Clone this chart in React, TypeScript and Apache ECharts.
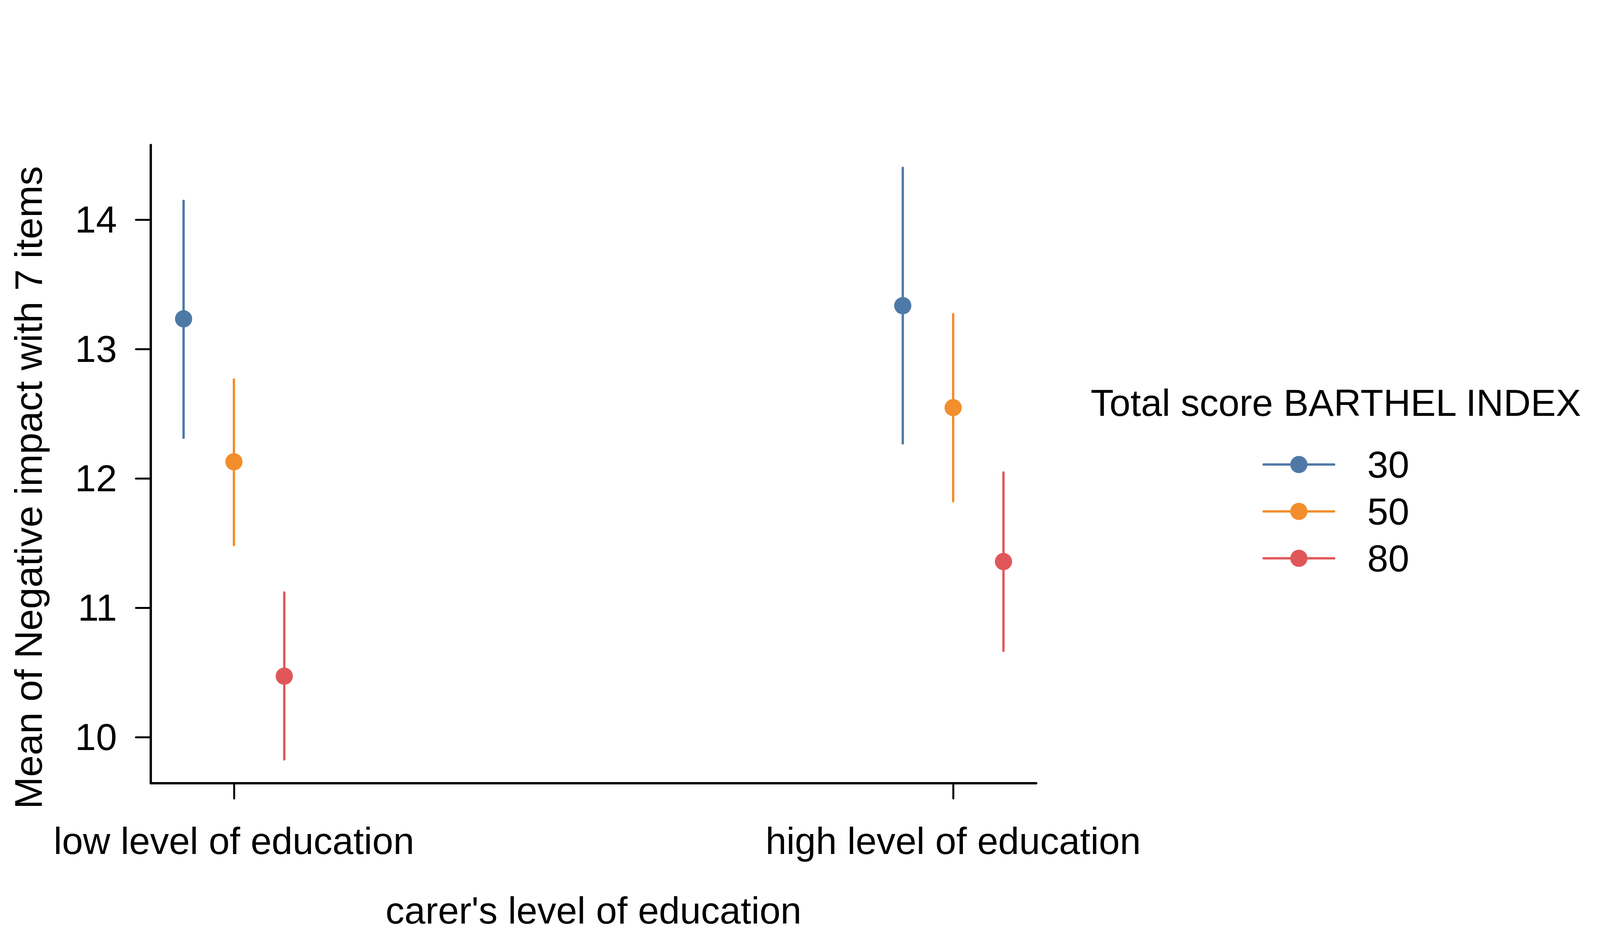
import React, { useEffect, useRef } from "react";
import * as echarts from "echarts";

const categories = ["low level of education", "high level of education"];
const groups = ["30", "50", "80"];
const colors = ["#4E79A7", "#F28E2B", "#E15759"];
const means30 = [13.233, 13.335];
const lower30 = [12.314, 12.27];
const upper30 = [14.145, 14.4];
const means50 = [12.128, 12.547];
const lower50 = [11.486, 11.823];
const upper50 = [12.764, 13.269];
const means80 = [10.471, 11.357];
const lower80 = [9.828, 10.668];
const upper80 = [11.118, 12.045];
const yTicks = [10, 11, 12, 13, 14];
const xTicks = [0, 1];

const FONT = "'Liberation Sans', Arial, Helvetica, sans-serif";

export default function App() {
  const ref = useRef<HTMLDivElement>(null);
  useEffect(() => {
    if (!ref.current) return;
    const chart = echarts.init(ref.current, null, { renderer: "svg" });
    // The viewport may be narrower than the 4200px design; scale horizontal layout to fit.
    const W = ref.current.clientWidth || 4200;
    const sx = Math.min(W, 4200) / 4200;
    const X = (v: number) => v * sx;
    const fs = 99 * sx;

    const means = [means30, means50, means80];
    const lowers = [lower30, lower50, lower80];
    const uppers = [upper30, upper50, upper80];
    const dodge = 0.07;
    const series: any[] = [];
    groups.forEach((g, gi) => {
      const off = (gi - 1) * dodge;
      const color = colors[gi];
      series.push({
        name: g + " CI",
        type: "custom",
        z: 2,
        data: categories.map((_, ci) => [ci + off, lowers[gi][ci], uppers[gi][ci]]),
        encode: { x: 0, y: [1, 2] },
        renderItem: (params: any, api: any) => {
          const p1 = api.coord([api.value(0), api.value(1)]);
          const p2 = api.coord([api.value(0), api.value(2)]);
          return {
            type: "line",
            shape: { x1: p1[0], y1: p1[1], x2: p2[0], y2: p2[1] },
            style: { stroke: color, lineWidth: 6, lineCap: "round" },
          };
        },
      });
      series.push({
        name: g,
        type: "line",
        z: 3,
        data: categories.map((_, ci) => [ci + off, means[gi][ci]]),
        symbol: "circle",
        symbolSize: 44,
        showSymbol: true,
        itemStyle: { color },
        lineStyle: { color, width: 6, opacity: 0 },
      });
    });
    chart.setOption({
      animation: false,
      textStyle: { fontFamily: FONT, color: "#000" },
      title: {
        text: "Total score BARTHEL INDEX",
        left: X(2863),
        top: 980,
        padding: 0,
        textStyle: { fontSize: fs, lineHeight: 100, fontWeight: "normal", color: "#000", fontFamily: FONT },
      },
      legend: {
        data: groups,
        orient: "vertical",
        left: X(3314),
        top: 1140,
        padding: 0,
        itemWidth: X(185),
        itemHeight: 55,
        itemGap: 23,
        selectedMode: false,
        textStyle: { fontSize: fs, lineHeight: 55, color: "#000", fontFamily: FONT, padding: [0, 0, 0, X(82)] },
        lineStyle: { width: 6, opacity: 1, cap: "round" },
      },
      grid: { left: X(396), right: X(1480), top: 371, bottom: 396, containLabel: false },
      xAxis: {
        type: "value",
        min: -0.1155,
        max: 1.1155,
        name: "carer's level of education",
        nameLocation: "middle",
        nameGap: 275,
        nameTextStyle: { fontSize: fs, lineHeight: 100, color: "#000", fontFamily: FONT },
        splitLine: { show: false },
        axisLine: { show: true, onZero: false, lineStyle: { color: "#000", width: 6, cap: "round" } },
        axisTick: { show: true, length: 39, customValues: xTicks, lineStyle: { color: "#000", width: 5, cap: "round" } },
        axisLabel: {
          customValues: xTicks,
          fontSize: fs,
          lineHeight: 100,
          color: "#000",
          fontFamily: FONT,
          margin: 97,
          formatter: (v: number) => categories[Math.round(v)] ?? "",
        },
      },
      yAxis: {
        type: "value",
        min: 9.6435,
        max: 14.577,
        name: "Mean of Negative impact with 7 items",
        nameLocation: "middle",
        nameGap: X(270),
        nameTextStyle: { fontSize: 99, lineHeight: 100, color: "#000", fontFamily: FONT, padding: [0, 120, 0, 0] },
        splitLine: { show: false },
        axisLine: { show: true, onZero: false, lineStyle: { color: "#000", width: 6, cap: "round" } },
        axisTick: { show: true, length: X(39), customValues: yTicks, lineStyle: { color: "#000", width: 5, cap: "round" } },
        axisLabel: {
          customValues: yTicks,
          fontSize: fs,
          color: "#000",
          fontFamily: FONT,
          margin: X(89),
        },
      },
      series,
    });
    return () => chart.dispose();
  }, []);
  return (
    <div
      ref={ref}
      style={{ position: "fixed", left: 0, top: 0, width: "100vw", maxWidth: 4200, height: 2400, background: "#fff" }}
    />
  );
}
